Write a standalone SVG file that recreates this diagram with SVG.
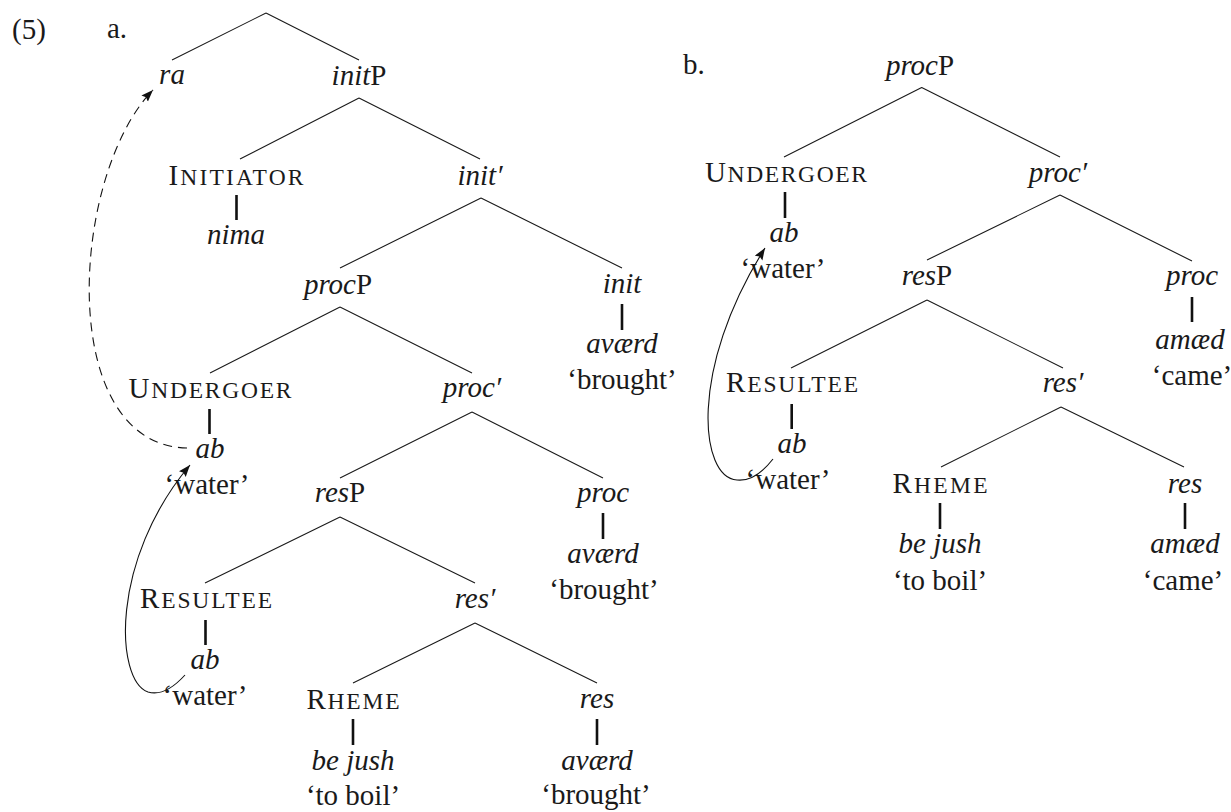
<svg xmlns="http://www.w3.org/2000/svg" width="1231" height="812" viewBox="0 0 1231 812">
<defs>
<style>
text { font-family: "Liberation Serif", "DejaVu Serif", serif; font-size: 29px; fill: #1a1a1a; text-anchor: middle; }
.st { text-anchor: start; }
.it { font-style: italic; }
.sc { font-size: 23.5px; }
.edge { stroke: #1a1a1a; stroke-width: 1.1; fill: none; }
.bar { stroke: #111; stroke-width: 2.6; fill: none; }
.mv { stroke: #111; stroke-width: 1.1; fill: none; marker-end: url(#ah); }
.dash { stroke-dasharray: 9 6; }
</style>
<marker id="ah" markerUnits="userSpaceOnUse" markerWidth="13" markerHeight="10" refX="12" refY="4.5" orient="auto">
<path d="M0,0 L12,4.5 L0,9 L2,4.5 z" fill="#111"/>
</marker>
</defs>
<rect width="1231" height="812" fill="#fff"/>

<g id="labels">
<text class="st" x="12" y="39">(5)</text>
<text class="st" x="107" y="38">a.</text>
<text class="st" x="683" y="74">b.</text>
</g>

<g id="connectors">
<path class="edge" d="M266 13 L172 60 M266 13 L359 60"/>
<path class="edge" d="M359 98 L240 159 M359 98 L480 159"/>
<path class="edge" d="M481 198 L340 268 M481 198 L622 268"/>
<path class="edge" d="M340 307 L210 373 M340 307 L472 373"/>
<path class="edge" d="M472 412 L340 478 M472 412 L603 478"/>
<path class="edge" d="M340 517 L205 583 M340 517 L475 583"/>
<path class="edge" d="M475 623 L353 683 M475 623 L597 683"/>
<path class="bar" d="M236.5 195 V220 M622 304 V330 M209.5 409 V434 M603 513 V539 M205.5 620 V645 M353 719 V745 M597 719 V745"/>
<path class="edge" d="M921.7 87.5 L784 157 M921.7 87.5 L1060 157"/>
<path class="edge" d="M1060 195 L927 260 M1060 195 L1192 261"/>
<path class="edge" d="M927 300 L791 368 M927 300 L1063 368"/>
<path class="edge" d="M1061 407 L941 467 M1061 407 L1184 467"/>
<path class="bar" d="M785 192 V218 M1192 297 V322 M791.7 404 V429 M940 503 V529 M1185 503 V529"/>
<path class="mv dash" d="M187 448 C55 445 70 175 153 90"/>
<path class="mv" d="M185 675 Q165 697 148 692 C115 680 110 560 190 465"/>
<path class="mv" d="M773 459 Q755 482 737 480 C700 478 688 370 765 248"/>
</g>

<g id="a-ra"><text class="it" x="172" y="84">ra</text></g>
<g id="a-initP"><text x="359" y="85"><tspan class="it">init</tspan>P</text></g>
<g id="a-initiator"><text x="236" y="185" textLength="135" lengthAdjust="spacing">I<tspan class="sc">NITIATOR</tspan></text>
<text class="it" x="236" y="244">nima</text></g>
<g id="a-initbar"><text class="it" x="480" y="185">init′</text></g>
<g id="a-procP"><text x="338" y="294"><tspan class="it">proc</tspan>P</text></g>
<g id="a-init"><text class="it" x="622" y="293">init</text>
<text class="it" x="622" y="353">aværd</text>
<text x="622" y="389">‘brought’</text></g>
<g id="a-undergoer"><text x="210" y="398" textLength="163" lengthAdjust="spacing">U<tspan class="sc">NDERGOER</tspan></text>
<text class="it" x="210" y="458">ab</text>
<text x="207" y="494">‘water’</text></g>
<g id="a-procbar"><text class="it" x="472" y="397">proc′</text></g>
<g id="a-resP"><text x="340" y="502"><tspan class="it">res</tspan>P</text></g>
<g id="a-proc"><text class="it" x="603" y="502">proc</text>
<text class="it" x="603" y="563">aværd</text>
<text x="604" y="599">‘brought’</text></g>
<g id="a-resultee"><text x="206" y="608" textLength="132" lengthAdjust="spacing">R<tspan class="sc">ESULTEE</tspan></text>
<text class="it" x="205" y="669">ab</text>
<text x="205" y="705">‘water’</text></g>
<g id="a-resbar"><text class="it" x="475" y="608">res′</text></g>
<g id="a-rheme"><text x="353" y="709" textLength="93" lengthAdjust="spacing">R<tspan class="sc">HEME</tspan></text>
<text class="it" x="353" y="770">be jush</text>
<text x="353" y="805">‘to boil’</text></g>
<g id="a-res"><text class="it" x="597" y="708">res</text>
<text class="it" x="597" y="770">aværd</text>
<text x="596" y="804">‘brought’</text></g>

<g id="b-procP"><text x="920" y="75"><tspan class="it">proc</tspan>P</text></g>
<g id="b-undergoer"><text x="786" y="182" textLength="162" lengthAdjust="spacing">U<tspan class="sc">NDERGOER</tspan></text>
<text class="it" x="784" y="242">ab</text>
<text x="783" y="278">‘water’</text></g>
<g id="b-procbar"><text class="it" x="1058" y="182">proc′</text></g>
<g id="b-resP"><text x="927" y="285"><tspan class="it">res</tspan>P</text></g>
<g id="b-proc"><text class="it" x="1192" y="285">proc</text>
<text class="it" x="1190" y="349">amæd</text>
<text x="1192" y="385">‘came’</text></g>
<g id="b-resultee"><text x="792" y="392" textLength="132" lengthAdjust="spacing">R<tspan class="sc">ESULTEE</tspan></text>
<text class="it" x="792" y="453">ab</text>
<text x="788" y="489">‘water’</text></g>
<g id="b-resbar"><text class="it" x="1063" y="392">res′</text></g>
<g id="b-rheme"><text x="940" y="493" textLength="95" lengthAdjust="spacing">R<tspan class="sc">HEME</tspan></text>
<text class="it" x="940" y="553">be jush</text>
<text x="940" y="590">‘to boil’</text></g>
<g id="b-res"><text class="it" x="1185" y="493">res</text>
<text class="it" x="1185" y="553">amæd</text>
<text x="1183" y="590">‘came’</text></g>
</svg>
